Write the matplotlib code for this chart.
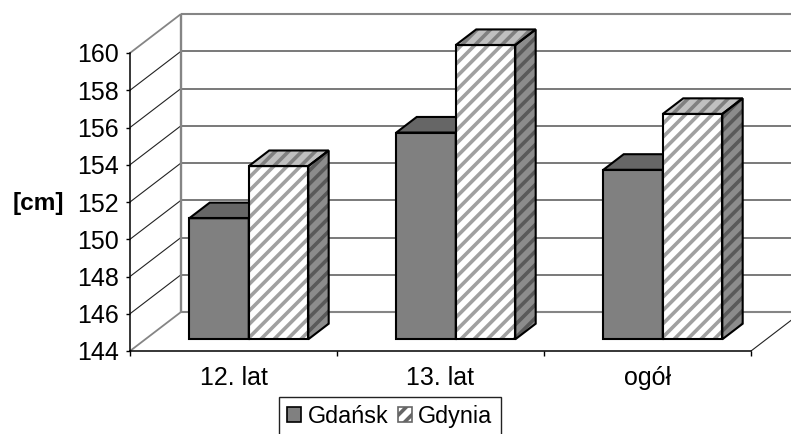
import matplotlib
matplotlib.use("Agg")
import matplotlib.pyplot as plt
from matplotlib.patches import Polygon, Patch

categories = ["12. lat", "13. lat", "ogół"]
gdansk = [150.5, 155.1, 153.1]
gdynia = [153.3, 159.8, 156.1]
y_ticks = list(range(144, 161, 2))

DPI = 120          # sets the hatch pitch; all point sizes below are scaled by S
S = 100 / DPI

plt.rcParams['font.family'] = ['Liberation Sans', 'DejaVu Sans']
plt.rcParams['hatch.linewidth'] = 2.6 * S

W, H = 791, 434
fig = plt.figure(figsize=(W / DPI, H / DPI), dpi=DPI)
ax = fig.add_axes([130 / W, 1 - 351 / H, 621 / W, 298 / H])
ax.set_xlim(0, 3)
ax.set_ylim(144, 160)

DX, DY = 51 / 207, 39 / 18.625   # wall depth in data units
BAR_W = 0.2874
D0, D1 = 0.30, 0.70              # bar front / back depth


def P(x, v, d=0.0):
    return (x + d * DX, v + d * DY)


def line(a, b, color, lw, z=1):
    ax.plot(*zip(a, b), color=color, lw=lw * S, zorder=z, clip_on=False, solid_capstyle='butt')


GRID = '#555555'
WALL = '#858585'
for v in y_ticks[:-1]:
    if v != 144:
        line(P(0, v, 0), P(0, v, 1), '#222222', 0.8)
    line(P(0, v, 1), P(3, v, 1), WALL if v == 144 else GRID, 1.5 if v == 144 else 1.1)
line(P(0, 160, 1), P(3, 160, 1), WALL, 1.5)
line(P(0, 160, 0), P(0, 160, 1), WALL, 1.3)
line(P(0, 144, 0), P(0, 144, 1), WALL, 1.3)
line(P(0, 144, 1), P(0, 160, 1), WALL, 1.7)
line(P(3, 144, 0), P(3, 144, 1), '#222222', 0.8)


def face(pts, fc, ec, hatch=None, z=3):
    ax.add_patch(Polygon(pts, closed=True, facecolor=fc, edgecolor=ec if hatch else 'none',
                         hatch=hatch, lw=0, zorder=z, clip_on=False))
    ax.add_patch(Polygon(pts, closed=True, facecolor='none', edgecolor='black',
                         lw=1.5 * S, joinstyle='miter', zorder=z + 0.1, clip_on=False))


def bar3d(x0, v, front, top, side, hatch_front=None, hatch_top=None, hatch_side=None, z=3):
    x1 = x0 + BAR_W
    b = 144
    face([P(x1, b, D0), P(x1, b, D1), P(x1, v, D1), P(x1, v, D0)], side[0], side[1], hatch_side, z)
    face([P(x0, v, D0), P(x1, v, D0), P(x1, v, D1), P(x0, v, D1)], top[0], top[1], hatch_top, z)
    face([P(x0, b, D0), P(x1, b, D0), P(x1, v, D0), P(x0, v, D0)], front[0], front[1], hatch_front, z)


for i in range(len(categories)):
    x_mid = i + 0.5
    bar3d(x_mid - BAR_W, gdansk[i], ('#808080', 'none'), ('#666666', 'none'), ('#555555', 'none'), z=3 + i)
    bar3d(x_mid, gdynia[i], ('white', '#a0a0a0'), ('#c0c0c0', '#808080'), ('#8c8c8c', '#5a5a5a'),
          '///', '///', '///', z=3.5 + i)

for s in ('top', 'right'):
    ax.spines[s].set_visible(False)
for s in ('left', 'bottom'):
    ax.spines[s].set_linewidth(1.1 * S)
    ax.spines[s].set_zorder(2)
ax.patch.set_visible(False)

ax.set_yticks(y_ticks)
ax.set_xticks([0, 1, 2, 3])
ax.set_xticklabels([])
ax.set_xticks([0.5, 1.5, 2.5], categories, minor=True)
ax.tick_params(axis='y', length=3 * S, width=S, pad=5 * S, labelsize=18 * S)
ax.tick_params(axis='x', which='major', length=3.5 * S, width=S)
ax.tick_params(axis='x', which='minor', length=0, pad=11 * S, labelsize=18 * S)

fig.text(38 / W, 1 - 204 / H, "[cm]", fontsize=17.6 * S, fontweight='bold', ha='center', va='center')

handles = [Patch(facecolor='#808080', edgecolor='black', lw=1.2 * S, label='Gdańsk'),
           Patch(facecolor='white', edgecolor='#666666', hatch='///', lw=1.2 * S, label='Gdynia')]
leg = fig.legend(handles=handles, ncol=2, loc='lower left', bbox_to_anchor=(279 / W, -0.005),
                 bbox_transform=fig.transFigure, fontsize=16.8 * S, frameon=True, fancybox=False,
                 edgecolor='#222222', framealpha=1, borderaxespad=0, borderpad=0.35,
                 handlelength=0.6, handleheight=0.6, handletextpad=0.27, columnspacing=0.42)
leg.get_frame().set_linewidth(S)

fig.savefig("out.png", dpi=DPI)
